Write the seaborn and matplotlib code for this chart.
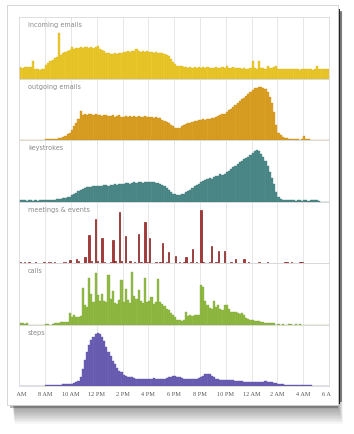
import numpy as np
import pandas as pd
import matplotlib
matplotlib.use("Agg")
import matplotlib.pyplot as plt
import seaborn as sns
from matplotlib.patches import Rectangle
from matplotlib.transforms import Bbox, TransformedBbox

# ---------------- data: 10-minute bins from 6 AM to 6 AM (144 bins) ----------------
tick_labels = ["6 AM", "8 AM", "10 AM", "12 PM", "2 PM", "4 PM", "6 PM",
               "8 PM", "10 PM", "12 AM", "2 AM", "4 AM", "6 AM"]
panel_names = ["incoming emails", "outgoing emails", "keystrokes",
               "meetings & events", "calls", "steps"]

incoming = [18, 17, 18, 19, 18, 18, 29, 15, 15, 14, 15, 16,
            22, 25, 28, 30, 33, 35, 74, 38, 41, 43, 45, 47,
            52, 48, 49, 50, 51, 50, 51, 52, 50, 51, 50, 51,
            53, 48, 47, 45, 42, 41, 40, 40, 41, 40, 41, 42,
            43, 43, 44, 43, 44, 45, 48, 44, 43, 44, 43, 44,
            43, 43, 42, 43, 42, 42, 41, 40, 38, 36, 31, 27,
            23, 21, 20, 20, 19, 18, 17, 18, 17, 18, 17, 18,
            17, 18, 17, 18, 17, 17, 17, 18, 17, 17, 18, 17,
            20, 17, 17, 18, 17, 17, 17, 16, 17, 16, 16, 17,
            28, 17, 16, 29, 17, 17, 16, 20, 17, 17, 18, 20,
            16, 16, 16, 15, 16, 15, 15, 16, 15, 15, 14, 15,
            15, 16, 15, 15, 14, 15, 20, 15, 15, 16, 15, 16]

outgoing = [0, 0, 0, 0, 0, 0, 0, 0, 0, 0, 0, 0.5,
            1, 1, 1, 1.5, 2, 2, 3, 4, 5, 7, 9, 11,
            16, 22, 28, 34, 47, 40, 42, 41, 43, 42, 41, 42,
            40, 41, 39, 40, 40, 39, 39, 40, 38, 39, 40, 38,
            38, 39, 38, 39, 38, 39, 38, 39, 38, 37, 39, 38,
            37, 38, 36, 37, 36, 35, 33, 31, 29, 27, 25, 22,
            20, 19, 20, 22, 24, 26, 27, 28, 30, 31, 31, 32,
            33, 34, 33, 34, 34, 35, 36, 37, 39, 41, 42, 43,
            46, 48, 51, 54, 57, 60, 63, 66, 69, 72, 75, 78,
            82, 84, 85, 86, 86, 85, 83, 78, 70, 60, 45, 25,
            12, 8, 5, 4, 3, 2, 2, 1.5, 1, 1, 0.5, 1,
            6, 2, 1, 0.5, 0.5, 0.5, 0.5, 0, 0, 0, 0, 0]

keystrokes = [2, 2, 2, 1.5, 2, 2, 1.5, 2, 1.5, 2, 2, 2,
              2, 2.5, 2.5, 3, 3, 3.5, 4, 4.5, 5, 6, 7, 8,
              10, 12, 14, 17, 19, 21, 22, 23, 24, 24, 25, 25,
              26, 26, 26, 27, 27, 26, 27, 27, 28, 27, 28, 29,
              29, 30, 30, 29, 30, 31, 30, 31, 31, 30, 31, 31,
              31, 32, 31, 30, 30, 29, 27, 25, 22, 19, 16, 13,
              12, 11, 11, 12, 13, 15, 17, 19, 22, 25, 27, 29,
              31, 33, 35, 36, 38, 37, 40, 41, 42, 44, 43, 45,
              48, 50, 53, 56, 58, 61, 64, 66, 69, 71, 73, 76,
              79, 82, 84, 82, 77, 72, 66, 58, 48, 38, 28, 16,
              8, 4, 3, 2, 2, 2, 2, 2, 1.5, 2, 2, 1.5,
              2, 2, 1.5, 2, 2, 2, 2, 1.5, 0, 0, 0, 0]

meetings = [2, 0, 2, 0, 2, 0, 0, 2, 0, 0, 0, 2,
            0, 2, 2, 0, 2, 0, 0, 0, 2, 2, 0, 5,
            0, 0, 7, 3, 0, 0, 9, 0, 46, 3, 0, 71,
            3, 0, 40, 2, 0, 0, 2, 38, 3, 0, 83, 3,
            0, 44, 0, 3, 0, 2, 0, 47, 2, 0, 66, 2,
            40, 0, 0, 2, 0, 2, 32, 0, 2, 18, 0, 0,
            12, 0, 2, 0, 2, 9, 0, 2, 22, 0, 2, 0,
            86, 2, 0, 0, 2, 27, 0, 2, 19, 0, 0, 20,
            0, 0, 2, 0, 6, 0, 0, 0, 6, 0, 2, 0,
            0, 0, 0, 2, 0, 0, 0, 2, 0, 0, 0, 0,
            0, 0, 0, 2, 2, 0, 2, 0, 0, 0, 2, 2,
            0, 0, 0, 0, 0, 0, 0, 0, 0, 0, 0, 0]

calls = [2, 2, 1.5, 2, 0, 0, 0, 0, 0, 0, 0, 0,
         1, 1, 0, 1, 2, 3, 3, 3.5, 4, 4, 4.5, 18,
         12, 15, 13, 12, 14, 59, 31, 28, 75, 50, 37, 84,
         48, 39, 49, 39, 36, 81, 42, 54, 35, 33, 40, 72,
         36, 57, 40, 35, 86, 46, 41, 56, 38, 35, 76, 36,
         38, 45, 34, 36, 74, 37, 33, 30, 26, 23, 19, 15,
         12, 8, 7, 6, 7, 21, 14, 15, 14, 15, 16, 15,
         65, 61, 39, 31, 27, 26, 39, 29, 31, 26, 24, 32,
         31, 26, 21, 20, 20, 18, 17, 18, 16, 11, 9, 8,
         7, 6, 6, 5, 4, 4, 3, 3, 3, 2, 2, 0,
         1, 0, 1, 0, 0, 1, 1, 0, 1, 0, 1, 0,
         0, 0, 0, 0, 0, 0, 0, 0, 0, 0, 0, 0]

steps = [0, 0.5, 0, 0, 0, 0, 0.5, 0.5, 0.5, 0.5, 0.5, 0.5,
         1, 1, 1, 1, 1.5, 1.5, 2, 2, 2.5, 3, 3, 3.5,
         4, 5, 6, 8, 15, 28, 42, 55, 66, 74, 80, 84,
         86, 84, 80, 73, 64, 56, 48, 41, 35, 30, 25, 22,
         18, 17, 15, 14, 14, 13, 12, 12, 11, 12, 12, 11,
         12, 12, 13, 12, 11, 11, 11, 12, 13, 14, 15, 16,
         16, 15, 14, 13, 12, 11, 11, 11, 12, 11, 12, 13,
         15, 17, 19, 20, 19, 17, 14, 12, 11, 10, 10, 10,
         10, 9, 9, 9, 8, 8, 8, 8, 7, 7, 7, 7,
         7, 6, 7, 6, 6, 7, 8, 7, 6, 6, 5, 5,
         4, 3, 3, 2, 2, 2, 2, 1.5, 1.5, 1, 1, 1,
         1, 1, 1, 1, 0.5, 0.5, 0.5, 0.5, 0, 0, 0, 0]

# ---------------- styling ----------------
face_colors = ["#ebc92c", "#dba125", "#4f8b8b", "#ad3535", "#92bb44", "#6d61b5"]
edge_colors = ["#d8b41d", "#c78e17", "#3f7777", "#7a1212", "#7ea735", "#5a4fa2"]
edge_widths = [0.25, 0.25, 0.25, 0.45, 0.25, 0.25]
shrinks = [1.0, 1.0, 1.0, 0.65, 1.0, 1.0]
series = [incoming, outgoing, keystrokes, meetings, calls, steps]

sns.set_theme(style="white")
plt.rcParams["font.family"] = ["DejaVu Sans"]

W, H = 354, 434
fig = plt.figure(figsize=(W / 100, H / 100), dpi=100)
fig.patch.set_facecolor("white")


def fx(px):
    return px / W


def fy(py):
    return 1 - py / H


def prect(x0, y0, x1, y1, **kw):
    r = Rectangle((fx(x0), fy(y1)), (x1 - x0) / W, (y1 - y0) / H,
                  transform=fig.transFigure, **kw)
    fig.patches.append(r)
    return r


# card shadow
for k in range(14):
    prect(12 + k * 0.2, 12, 338 + k * 0.35, 404 + k * 1.5,
          facecolor="black", edgecolor="none", alpha=0.035, zorder=0)
prect(336, 9, 339.5, 404, facecolor="#111111", edgecolor="none", alpha=0.9, zorder=0)
prect(339.5, 11, 341.5, 402, facecolor="#222222", edgecolor="none", alpha=0.5, zorder=0)
prect(10, 403, 338, 408, facecolor="#333333", edgecolor="none", alpha=0.35, zorder=0)
# card
prect(7, 5, 338, 405, facecolor="white", edgecolor="#cfcfcf", linewidth=0.6, zorder=1)

L, R, T, B = 19.3, 329.0, 17.0, 386.0
ph = (B - T) / 6
centers = np.arange(144) / 6 + 1 / 12

for i, (name, vals) in enumerate(zip(panel_names, series)):
    top = T + i * ph
    ax = fig.add_axes([fx(L), fy(top + ph), (R - L) / W, ph / H])
    ax.set_facecolor("none")
    ax.set_zorder(2)
    for gx in range(2, 24, 2):
        ax.axvline(gx, color="#e3e3e3", lw=0.6, zorder=0)
    df = pd.DataFrame({"t": centers, "v": np.asarray(vals, dtype=float)})
    sns.histplot(data=df, x="t", weights="v", binwidth=1 / 6, binrange=(0, 24),
                 ax=ax, color=face_colors[i], edgecolor=edge_colors[i],
                 linewidth=edge_widths[i], alpha=1, shrink=shrinks[i], zorder=2)
    ax.set_xlim(0, 24)
    ax.set_ylim(0, 100)
    ax.set_xlabel("")
    ax.set_ylabel("")
    ax.set_yticks([])
    for s in ax.spines.values():
        s.set_color("#d9d9d9")
        s.set_linewidth(0.6)
    ax.text(0.028, 0.862, name, transform=ax.transAxes, fontsize=4.7,
            color="#8a8a8a", va="center", ha="left")
    if i < 5:
        ax.set_xticks([])
    else:
        ax.set_xticks(range(0, 25, 2))
        ax.set_xticklabels(tick_labels, fontsize=4.5, family="Liberation Serif",
                           color="#555555")
        ax.tick_params(axis="x", length=1.8, width=0.5, color="#aaaaaa", pad=2.2,
                       direction="out")
        clipbb = TransformedBbox(Bbox([[fx(17), 0], [fx(331), 1]]), fig.transFigure)
        for lab in ax.get_xticklabels():
            lab.set_clip_box(clipbb)
            lab.set_clip_on(True)

fig.savefig("out.png", dpi=100, facecolor="white")
